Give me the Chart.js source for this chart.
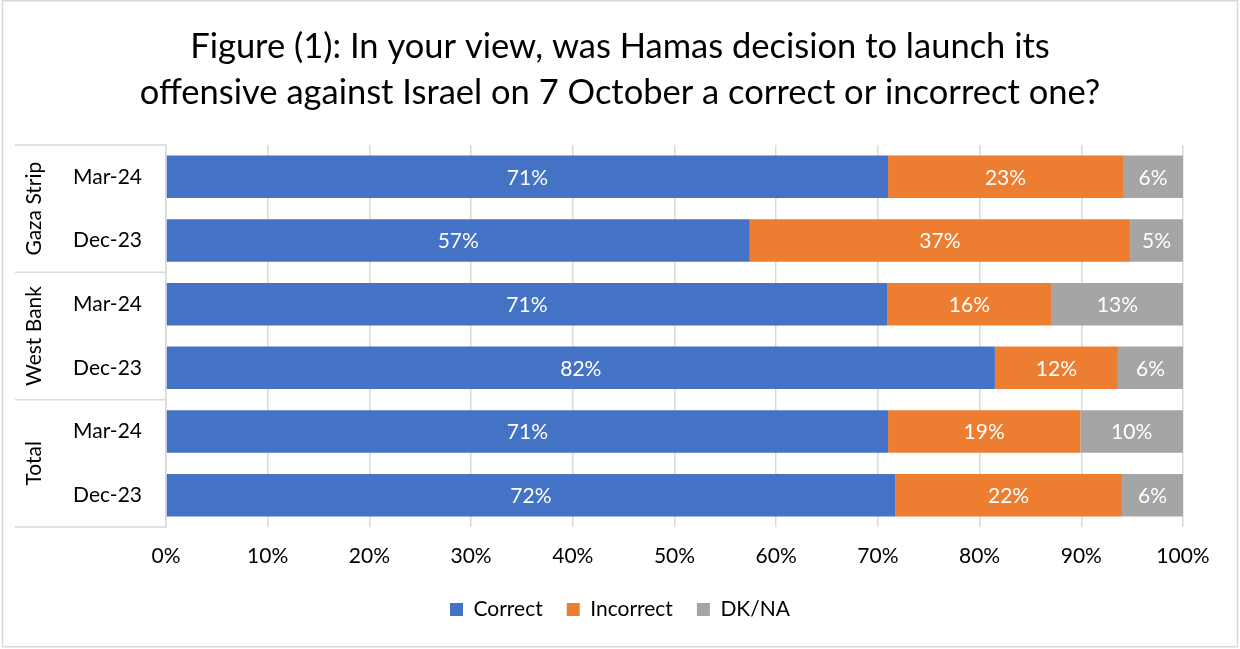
<!DOCTYPE html>
<html>
<head>
<meta charset="utf-8">
<script src="https://cdn.jsdelivr.net/npm/chart.js@4.4.1/dist/chart.umd.min.js"></script>
<style>
  html, body { margin: 0; padding: 0; background: #fff; }
  #wrap { width: 1240px; height: 649px; }
</style>
</head>
<body>
<div id="wrap"><canvas id="hamas-chart" width="1240" height="649"></canvas></div>
<script>
/*********************************
 * DATA                          *
 *********************************/
const categories = ["Mar-24", "Dec-23", "Mar-24", "Dec-23", "Mar-24", "Dec-23"];
const groups = ["Gaza Strip", "West Bank", "Total"];
const correct = [71.0, 57.4, 70.9, 81.5, 71.0, 71.7];
const incorrect = [23.1, 37.4, 16.2, 12.1, 18.9, 22.3];
const dkna = [5.9, 5.2, 12.9, 6.4, 10.1, 6.0];
const seriesNames = ["Correct", "Incorrect", "DK/NA"];
const titleLines = [
  "Figure (1): In your view, was Hamas decision to launch its",
  "offensive against Israel on 7 October a correct or incorrect one?"
];

const FONT = "Lato, 'Open Sans', sans-serif";
const FS = 21;
const GRID = '#d9d9d9';

// white background + outer frame
const framePlugin = {
  id: 'frame',
  beforeDraw(chart) {
    const ctx = chart.ctx;
    ctx.save();
    ctx.fillStyle = '#fff';
    ctx.fillRect(0, 0, chart.width, chart.height);
    ctx.strokeStyle = GRID;
    ctx.lineWidth = 1.5;
    ctx.strokeRect(2.5, 0.75, chart.width - 5, chart.height - 3);
    ctx.restore();
  }
};

// group labels (rotated) and separators on the category axis
const groupPlugin = {
  id: 'groups',
  afterDraw(chart) {
    const ctx = chart.ctx;
    const y = chart.scales.y;
    const area = chart.chartArea;
    const left = 15;
    const per = categories.length / groups.length;
    const slot = (y.getPixelForValue(1) - y.getPixelForValue(0));
    ctx.save();
    ctx.strokeStyle = GRID;
    ctx.lineWidth = 1.5;
    for (let g = 0; g <= groups.length; g++) {
      let py = g === 0 ? area.top : (g === groups.length ? area.bottom :
        y.getPixelForValue(g * per) - slot / 2);
      ctx.beginPath();
      ctx.moveTo(left, py);
      ctx.lineTo(area.left, py);
      ctx.stroke();
    }
    ctx.fillStyle = '#000';
    ctx.font = FS + 'px ' + FONT;
    ctx.textAlign = 'center';
    ctx.textBaseline = 'middle';
    groups.forEach((name, g) => {
      const top = y.getPixelForValue(g * per) - slot / 2;
      const bot = y.getPixelForValue(g * per + per - 1) + slot / 2;
      ctx.save();
      ctx.translate(34, (top + bot) / 2);
      ctx.rotate(-Math.PI / 2);
      ctx.fillText(name, 0, 0);
      ctx.restore();
    });
    ctx.restore();
  }
};

// value labels inside the segments
const valueLabels = {
  id: 'valueLabels',
  afterDatasetsDraw(chart) {
    const ctx = chart.ctx;
    ctx.save();
    ctx.fillStyle = '#fff';
    ctx.font = FS + 'px ' + FONT;
    ctx.textAlign = 'center';
    ctx.textBaseline = 'middle';
    chart.data.datasets.forEach((ds, i) => {
      const meta = chart.getDatasetMeta(i);
      meta.data.forEach((bar, j) => {
        const p = bar.getCenterPoint();
        ctx.fillText(Math.round(ds.data[j]) + '%', p.x, p.y + 1);
      });
    });
    ctx.restore();
  }
};

const ctx = document.getElementById('hamas-chart').getContext('2d');

let hamasChart = new Chart(ctx, {
  type: 'bar',
  data: {
    labels: categories,
    datasets: [{
      label: seriesNames[0],
      data: correct,
      backgroundColor: '#4472C4'
    }, {
      label: seriesNames[1],
      data: incorrect,
      backgroundColor: '#ED7D31'
    }, {
      label: seriesNames[2],
      data: dkna,
      backgroundColor: '#A5A5A5'
    }]
  },
  options: {
    indexAxis: 'y',
    responsive: false,
    animation: false,
    barPercentage: 0.667,
    categoryPercentage: 1,
    layout: {
      padding: { left: 57, right: 57, top: 0, bottom: 19 }
    },
    scales: {
      x: {
        stacked: true,
        min: 0,
        max: 100,
        border: { display: false },
        grid: { color: GRID, lineWidth: 1.5, drawTicks: false },
        ticks: {
          stepSize: 10,
          padding: 17,
          color: '#000',
          font: { family: FONT, size: FS },
          callback: v => v + '%'
        },
        afterFit(scale) { scale.height = 48; }
      },
      y: {
        stacked: true,
        border: { display: true, color: GRID, width: 1.5 },
        grid: { display: false, drawTicks: false },
        ticks: {
          padding: 24,
          color: '#000',
          font: { family: FONT, size: FS }
        },
        afterFit(scale) { scale.width = 109; }
      }
    },
    plugins: {
      title: {
        display: true,
        text: titleLines,
        color: '#000',
        font: { family: FONT, size: 34.5, weight: 'normal', lineHeight: 1.333 },
        padding: { top: 24, bottom: 29 }
      },
      legend: {
        position: 'bottom',
        labels: {
          boxWidth: 13,
          boxHeight: 13,
          padding: 24,
          color: '#000',
          font: { family: FONT, size: FS }
        }
      },
      tooltip: { enabled: false }
    }
  },
  plugins: [framePlugin, groupPlugin, valueLabels]
});
</script>
</body>
</html>
